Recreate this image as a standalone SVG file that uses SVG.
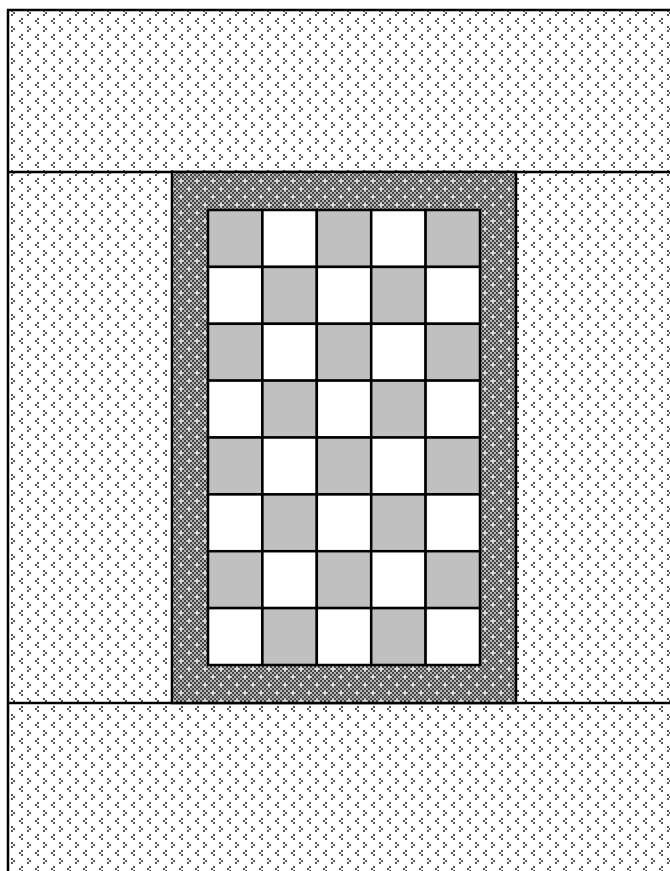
<svg xmlns="http://www.w3.org/2000/svg" width="670" height="871" viewBox="0 0 670 871">
<defs>
<pattern id="dots" x="0" y="0" width="16" height="16" patternUnits="userSpaceOnUse">
<rect width="16" height="16" fill="#fff"/>
<path d="M5 2h2v2h-2zM3 4h2v2h-2zM5 6h2v2h-2z" fill="#555"/>
<path d="M11 10h2v2h-2zM13 12h2v2h-2zM11 14h2v2h-2z" fill="#555"/>
</pattern>
<pattern id="chk" x="0" y="0" width="4" height="4" patternUnits="userSpaceOnUse">
<rect width="4" height="4" fill="#b4b4b4"/>
<rect width="2" height="2" fill="#444"/>
<rect x="2" y="2" width="2" height="2" fill="#444"/>
</pattern>
<pattern id="plus" x="0" y="0" width="16" height="16" patternUnits="userSpaceOnUse">
<path d="M4.5 2.5h1v5h-1zM2.5 4.5h5v1h-5z" fill="#fff"/>
<path d="M12.5 10.5h1v5h-1zM10.5 12.5h5v1h-5z" fill="#fff"/>
</pattern>
<style>
.ln{stroke:#000;stroke-width:2.5;fill:none}
.g{fill:#c0c0c0;stroke:#000;stroke-width:2.5}
.w{fill:#fff;stroke:#000;stroke-width:2.5}
</style>
</defs>
<g id="background">
<rect x="8" y="10" width="670" height="870" fill="url(#dots)"/>
<path class="ln" d="M8 880V10H670M8 172H670M8 703H670"/>
</g>
<g id="frame">
<rect x="172" y="172" width="344" height="531" fill="url(#chk)"/>
<rect x="172" y="172" width="344" height="531" fill="url(#plus)"/>
<rect x="172" y="172" width="344" height="531" class="ln"/>
</g>
<g id="board">
<rect x="208" y="210" width="54.4" height="56.9" class="g"/>
<rect x="262.4" y="210" width="54.4" height="56.9" class="w"/>
<rect x="316.8" y="210" width="54.4" height="56.9" class="g"/>
<rect x="371.2" y="210" width="54.4" height="56.9" class="w"/>
<rect x="425.6" y="210" width="54.4" height="56.9" class="g"/>
<rect x="208" y="266.9" width="54.4" height="56.9" class="w"/>
<rect x="262.4" y="266.9" width="54.4" height="56.9" class="g"/>
<rect x="316.8" y="266.9" width="54.4" height="56.9" class="w"/>
<rect x="371.2" y="266.9" width="54.4" height="56.9" class="g"/>
<rect x="425.6" y="266.9" width="54.4" height="56.9" class="w"/>
<rect x="208" y="323.8" width="54.4" height="56.9" class="g"/>
<rect x="262.4" y="323.8" width="54.4" height="56.9" class="w"/>
<rect x="316.8" y="323.8" width="54.4" height="56.9" class="g"/>
<rect x="371.2" y="323.8" width="54.4" height="56.9" class="w"/>
<rect x="425.6" y="323.8" width="54.4" height="56.9" class="g"/>
<rect x="208" y="380.6" width="54.4" height="56.9" class="w"/>
<rect x="262.4" y="380.6" width="54.4" height="56.9" class="g"/>
<rect x="316.8" y="380.6" width="54.4" height="56.9" class="w"/>
<rect x="371.2" y="380.6" width="54.4" height="56.9" class="g"/>
<rect x="425.6" y="380.6" width="54.4" height="56.9" class="w"/>
<rect x="208" y="437.5" width="54.4" height="56.9" class="g"/>
<rect x="262.4" y="437.5" width="54.4" height="56.9" class="w"/>
<rect x="316.8" y="437.5" width="54.4" height="56.9" class="g"/>
<rect x="371.2" y="437.5" width="54.4" height="56.9" class="w"/>
<rect x="425.6" y="437.5" width="54.4" height="56.9" class="g"/>
<rect x="208" y="494.4" width="54.4" height="56.9" class="w"/>
<rect x="262.4" y="494.4" width="54.4" height="56.9" class="g"/>
<rect x="316.8" y="494.4" width="54.4" height="56.9" class="w"/>
<rect x="371.2" y="494.4" width="54.4" height="56.9" class="g"/>
<rect x="425.6" y="494.4" width="54.4" height="56.9" class="w"/>
<rect x="208" y="551.2" width="54.4" height="56.9" class="g"/>
<rect x="262.4" y="551.2" width="54.4" height="56.9" class="w"/>
<rect x="316.8" y="551.2" width="54.4" height="56.9" class="g"/>
<rect x="371.2" y="551.2" width="54.4" height="56.9" class="w"/>
<rect x="425.6" y="551.2" width="54.4" height="56.9" class="g"/>
<rect x="208" y="608.1" width="54.4" height="56.9" class="w"/>
<rect x="262.4" y="608.1" width="54.4" height="56.9" class="g"/>
<rect x="316.8" y="608.1" width="54.4" height="56.9" class="w"/>
<rect x="371.2" y="608.1" width="54.4" height="56.9" class="g"/>
<rect x="425.6" y="608.1" width="54.4" height="56.9" class="w"/>
</g>
</svg>
